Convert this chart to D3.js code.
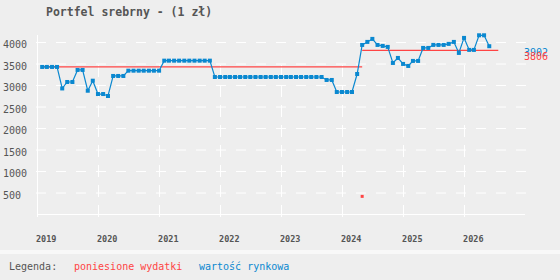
<!DOCTYPE html>
<html>
<head>
<meta charset="utf-8">
<script src="https://cdn.jsdelivr.net/npm/d3@7"></script>
<style>
  body { margin: 0; background: #eeeeee; }
  text { font-family: "DejaVu Sans Mono", monospace; }
</style>
</head>
<body>
<div id="chart"></div>
<script>
// market value, one point per month starting Feb 2019
var valueStart = "2019-02-01";
var marketValues = [
  3420, 3420, 3420, 3420, 2920, 3070, 3070, 3350, 3350, 2867,
  3100, 2790, 2790, 2744, 3210, 3210, 3210, 3333, 3333, 3333,
  3333, 3333, 3333, 3333, 3566, 3566, 3566, 3566, 3566, 3566,
  3566, 3566, 3566, 3566, 3186, 3186, 3186, 3186, 3186, 3186,
  3186, 3186, 3186, 3186, 3186, 3186, 3186, 3186, 3186, 3186,
  3186, 3186, 3186, 3186, 3186, 3186, 3117, 3117, 2837, 2837,
  2837, 2837, 3256, 3932, 4002, 4072, 3932, 3909, 3886, 3513,
  3629, 3490, 3443, 3560, 3560, 3862, 3862, 3932, 3932, 3932,
  3956, 4002, 3746, 4095, 3816, 3816, 4156, 4156, 3902
];

// costs (poniesione wydatki) as flat segments
var costStart = ["2019-02-01", "2024-05-01"];
var costEnd = ["2024-05-01", "2026-07-25"];
var costValue = [3420, 3806];
var costDot = { date: "2024-05-01", value: 410 };

var yTicks = [500, 1000, 1500, 2000, 2500, 3000, 3500, 4000];
var yearTicks = [2019, 2020, 2021, 2022, 2023, 2024, 2025, 2026];

var blue = "#0a88d0";
var red = "#ff4444";
var grey = "#555555";

var svgWidth = 560;
var svgHeight = 280;

var svg = d3.select("#chart")
  .append("svg")
  .attr("width", svgWidth)
  .attr("height", svgHeight);

svg.append("rect")
  .attr("width", svgWidth)
  .attr("height", svgHeight)
  .attr("fill", "#eeeeee");

var parse = d3.timeParse("%Y-%m-%d");

var x = d3.scaleTime()
  .domain([new Date(2019, 0, 1), new Date(2027, 0, 1)])
  .range([37, 525]);

var y = d3.scaleLinear()
  .domain([0, 4000])
  .range([214, 42]);

svg.append("text")
  .attr("x", 46)
  .attr("y", 16)
  .attr("font-size", "11.5px")
  .attr("font-weight", "bold")
  .attr("fill", grey)
  .text("Portfel srebrny - (1 zł)");

// horizontal grid
svg.append("g").selectAll("line")
  .data(yTicks)
  .enter()
  .append("line")
  .attr("x1", 36)
  .attr("x2", 527)
  .attr("y1", d => y(d) + 0.5)
  .attr("y2", d => y(d) + 0.5)
  .attr("stroke", "#ffffff")
  .attr("stroke-dasharray", "10,10");

// vertical grid
svg.append("g").selectAll("line")
  .data(yearTicks.slice(1))
  .enter()
  .append("line")
  .attr("x1", d => Math.round(x(new Date(d, 0, 1))) + 0.5)
  .attr("x2", d => Math.round(x(new Date(d, 0, 1))) + 0.5)
  .attr("y1", 217)
  .attr("y2", 61)
  .attr("stroke", "#ffffff")
  .attr("stroke-dasharray", "12,8");

// y labels
svg.append("g").selectAll("text")
  .data(yTicks)
  .enter()
  .append("text")
  .attr("x", 3)
  .attr("y", d => y(d) + 6)
  .attr("font-size", "10px")
  .attr("fill", grey)
  .text(d => d);

// axes lines
svg.append("line")
  .attr("x1", 37.5).attr("x2", 37.5)
  .attr("y1", 35).attr("y2", 217)
  .attr("stroke", "#ffffff");

svg.append("line")
  .attr("x1", 37).attr("x2", 525)
  .attr("y1", 214.5).attr("y2", 214.5)
  .attr("stroke", "#ffffff");

// x labels
svg.append("g").selectAll("text")
  .data(yearTicks)
  .enter()
  .append("text")
  .attr("x", d => x(new Date(d, 0, 1)) - 1)
  .attr("y", 242)
  .attr("font-size", "8.5px")
  .attr("font-weight", "bold")
  .attr("fill", grey)
  .text(d => d);

// cost segments
var costData = costValue.map(function(v, i) {
  return { a: parse(costStart[i]), b: parse(costEnd[i]), v: v };
});

svg.append("g").selectAll("line")
  .data(costData)
  .enter()
  .append("line")
  .attr("x1", d => x(d.a))
  .attr("x2", d => x(d.b))
  .attr("y1", d => y(d.v))
  .attr("y2", d => y(d.v))
  .attr("stroke", red)
  .attr("stroke-width", 1.2);

svg.append("rect")
  .attr("x", x(parse(costDot.date)) - 1.5)
  .attr("y", y(costDot.value) - 1.5)
  .attr("width", 3)
  .attr("height", 3)
  .attr("fill", red);

// market value line
var start = parse(valueStart);
var valueData = marketValues.map(function(v, i) {
  return { date: d3.timeMonth.offset(start, i), v: v };
});

var line = d3.line()
  .x(d => x(d.date))
  .y(d => y(d.v));

svg.append("path")
  .datum(valueData)
  .attr("d", line)
  .attr("fill", "none")
  .attr("stroke", blue)
  .attr("stroke-width", 1.2);

svg.append("g").selectAll("rect")
  .data(valueData)
  .enter()
  .append("rect")
  .attr("x", d => x(d.date) - 2)
  .attr("y", d => y(d.v) - 2)
  .attr("width", 4)
  .attr("height", 4)
  .attr("fill", blue);

// end labels
var lastValue = marketValues[marketValues.length - 1];
var lastCost = costValue[costValue.length - 1];

svg.append("text")
  .attr("x", 524)
  .attr("y", y(lastValue) + 10)
  .attr("font-size", "10px")
  .attr("fill", blue)
  .text(lastValue);

svg.append("text")
  .attr("x", 524)
  .attr("y", y(lastCost) + 10)
  .attr("font-size", "10px")
  .attr("fill", red)
  .text(lastCost);

// legend
svg.append("rect")
  .attr("x", 0).attr("y", 250)
  .attr("width", svgWidth).attr("height", 4)
  .attr("fill", "#f8f8f8");

var legend = svg.append("g");
legend.append("text")
  .attr("x", 9).attr("y", 270)
  .attr("font-size", "10px").attr("fill", grey)
  .text("Legenda:");
legend.append("text")
  .attr("x", 74).attr("y", 270)
  .attr("font-size", "10px").attr("fill", red)
  .text("poniesione wydatki");
legend.append("text")
  .attr("x", 199).attr("y", 270)
  .attr("font-size", "10px").attr("fill", blue)
  .text("wartość rynkowa");
</script>
</body>
</html>
